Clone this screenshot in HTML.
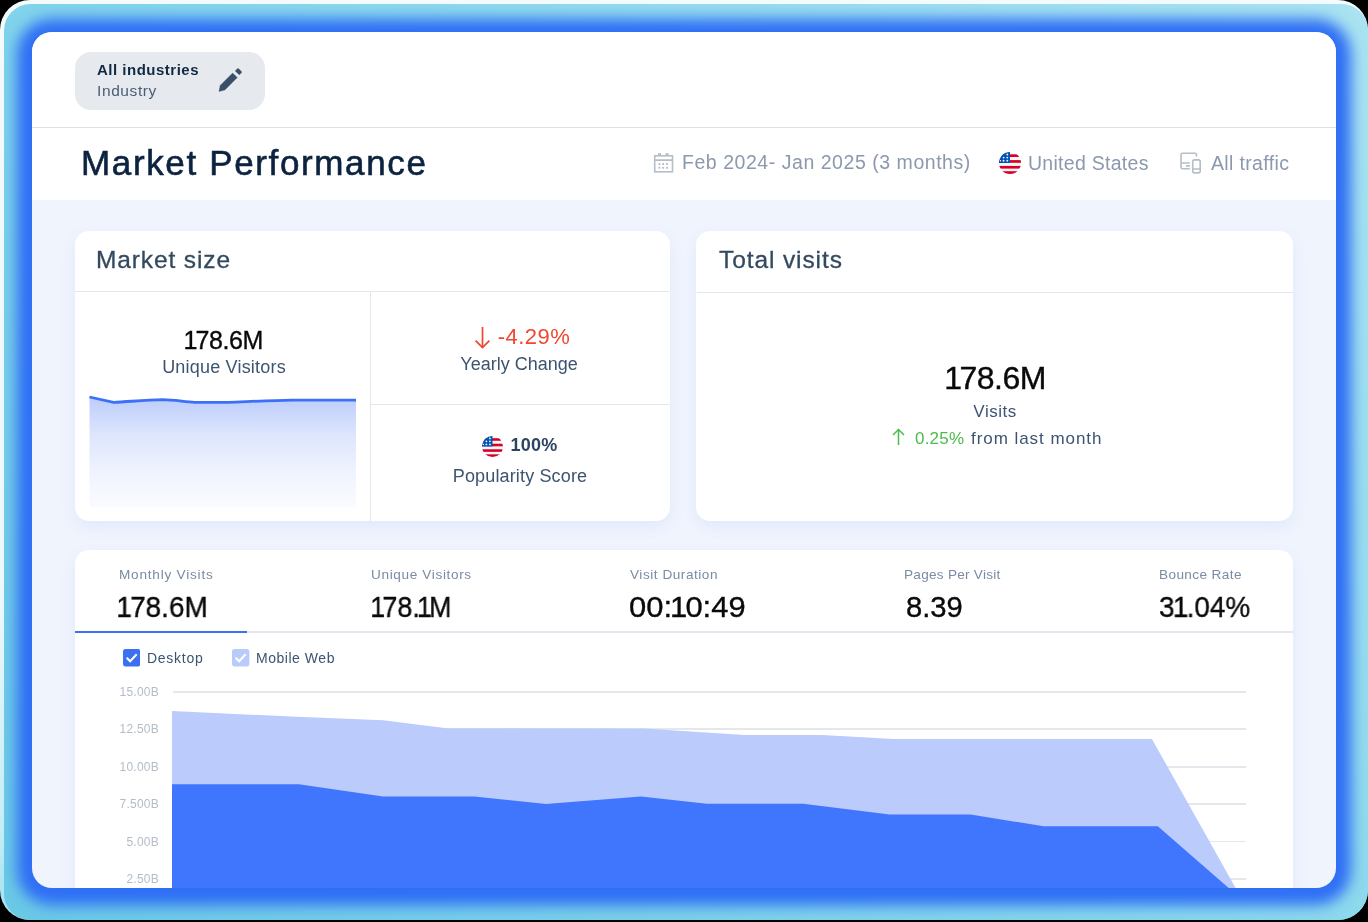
<!DOCTYPE html>
<html><head><meta charset="utf-8"><title>Market Performance</title>
<style>
*{box-sizing:border-box;margin:0;padding:0}
html,body{width:1368px;height:922px;overflow:hidden;background:#000}
body{font-family:"Liberation Sans",sans-serif;position:relative}
.frame{position:absolute;left:0;top:0;width:1368px;height:920px;border-radius:30px;overflow:hidden;
 background:linear-gradient(178deg,#f4fbfd 0%,#eef9fc 62%,#c5eef6 86%,#8ad8ec 100%)}
.frame2{position:absolute;left:3.5px;top:3.5px;width:1364.5px;height:916.5px;border-radius:26.5px;
 background:linear-gradient(45deg,#6ac8e6 0%,#86d6ec 50%,#aae3f1 100%)}
.main{position:absolute;left:32px;top:32px;width:1304px;height:856px;border-radius:20px;background:#f0f4fd;
 box-shadow:0 2px 14px 15px #2f6ff5;overflow:hidden}
.a{position:absolute}
.t{position:absolute;white-space:nowrap;line-height:1;will-change:transform}
.card{position:absolute;background:#fff;border-radius:14px;box-shadow:0 6px 16px rgba(60,100,230,.08)}
.hl{position:absolute;height:1px;background:#e3e7ed}
.vl{position:absolute;width:1px;background:#e3e7ed}
</style></head><body>
<div class="frame"><div class="frame2"></div></div>
<div class="main"></div>
<div class="a" style="left:32px;top:32px;width:1304px;height:856px;border-radius:20px;overflow:hidden">
<div class="a" style="left:-32px;top:-32px;width:1368px;height:922px">
<div class="a" style="left:32px;top:32px;width:1304px;height:168px;background:#fff"></div>
<div class="hl" style="left:32px;top:127px;width:1304px;background:#dde2e9"></div>
<div class="a" style="left:75px;top:52px;width:190px;height:58px;border-radius:16px;background:#e6e9ed"></div>
<div class="t" style="left:96.8px;top:61.90px;font-size:15px;color:#102a43;font-weight:700;letter-spacing:0.5px;">All industries</div>
<div class="t" style="left:97.4px;top:83.48px;font-size:15.5px;color:#4a5e75;font-weight:400;letter-spacing:0.6px;">Industry</div>
<svg class="a" style="left:214px;top:64px" width="32" height="32" viewBox="214 64 32 32">
<path d="M219 91.6 L220.1 85.5 L232.6 73 L237.3 77.6 L224.9 90 Z" fill="#3a5069" stroke="#3a5069" stroke-width="0.3" stroke-linejoin="round"/>
<path d="M235 70.9 L237.4 68.5 Q238 67.9 238.6 68.5 L241.6 71.5 Q242.2 72.1 241.6 72.7 L239.3 75.1 Z" fill="#3a5069"/></svg>
<div class="t" style="left:81.0px;top:145.37px;font-size:35px;color:#0c2340;font-weight:400;letter-spacing:1.64px;-webkit-text-stroke:0.6px #0c2340;">Market Performance</div>
<svg class="a" style="left:653px;top:152px" width="21" height="21" viewBox="0 0 21 21" fill="none" stroke="#b4bdc8" stroke-width="1.6">
<rect x="1.7" y="3.8" width="17.8" height="16"/><line x1="1.7" y1="8.1" x2="19.5" y2="8.1"/>
<g fill="#b4bdc8" stroke="none"><rect x="5" y="1.2" width="3" height="2.6"/><rect x="12.5" y="1.2" width="3" height="2.6"/>
<rect x="5.5" y="11.1" width="1.9" height="1.9"/><rect x="9.2" y="11.1" width="1.9" height="1.9"/><rect x="13.1" y="11.1" width="1.9" height="1.9"/>
<rect x="5.5" y="14.8" width="1.9" height="1.9"/><rect x="9.2" y="14.8" width="1.9" height="1.9"/><rect x="13.1" y="14.8" width="1.9" height="1.9"/></g></svg>
<div class="t" style="left:682.2px;top:153.49px;font-size:19.5px;color:#8a99ad;font-weight:400;letter-spacing:0.54px;">Feb 2024- Jan 2025 (3 months)</div>
<svg class="a" style="left:999px;top:152px" width="22" height="22" viewBox="0 0 22 22">
<defs><clipPath id="fc999"><circle cx="11" cy="11" r="11"/></clipPath></defs>
<g clip-path="url(#fc999)">
<rect width="22" height="22" fill="#f4f7f9"/>
<rect y="2.3" width="22" height="2.7" fill="#d80027"/>
<rect y="8.1" width="22" height="2.7" fill="#d80027"/>
<rect y="13.9" width="22" height="2.7" fill="#d80027"/>
<rect y="19.2" width="22" height="2.8" fill="#d80027"/>
<rect width="11" height="11" fill="#0052b4"/>
<g fill="#f4f7f9"><circle cx="8.3" cy="2.5" r=".95"/><circle cx="4.6" cy="5.6" r=".95"/><circle cx="8.3" cy="5.6" r=".95"/><circle cx="4.6" cy="8.8" r=".95"/><circle cx="8.3" cy="8.8" r=".95"/><circle cx="1.4" cy="8.8" r=".8"/></g>
</g></svg>
<div class="t" style="left:1028.2px;top:153.59px;font-size:19.5px;color:#8a99ad;font-weight:400;letter-spacing:0.28px;">United States</div>
<svg class="a" style="left:1178px;top:151px" width="26" height="24" viewBox="0 0 26 24" fill="none" stroke="#b4bdc8" stroke-width="1.6">
<path d="M18.5 5.6 V3.8 Q18.5 2.3 17 2.3 H4.6 Q3 2.3 3 3.9 V16.2 Q3 17.8 4.6 17.8 H11.8"/>
<line x1="3" y1="12" x2="11.8" y2="12"/><line x1="8" y1="14.9" x2="11.8" y2="14.9"/>
<rect x="14.7" y="8.9" width="7.5" height="13" rx="1.8"/><line x1="14.7" y1="18" x2="22.2" y2="18"/></svg>
<div class="t" style="left:1211.4px;top:153.69px;font-size:19.5px;color:#8a99ad;font-weight:400;letter-spacing:0.35px;">All traffic</div>
<div class="card" style="left:75px;top:231px;width:595px;height:290px"></div>
<div class="hl" style="left:75px;top:291px;width:594px"></div>
<div class="vl" style="left:370px;top:292px;height:229px"></div>
<div class="hl" style="left:371px;top:404px;width:299px"></div>
<div class="t" style="left:96.0px;top:248.46px;font-size:24.5px;color:#33495f;font-weight:400;letter-spacing:0.88px;-webkit-text-stroke:0.3px #33495f;">Market size</div>
<div class="t" style="left:224.3px;top:328.24px;font-size:25px;color:#0a0a0a;font-weight:400;letter-spacing:-0.42px;transform:translateX(-50%);-webkit-text-stroke:0.35px #0a0a0a;"><span style="margin:0 -1.5px">1</span>78.6M</div>
<div class="t" style="left:224.0px;top:358.16px;font-size:18px;color:#3d5470;font-weight:400;letter-spacing:0.2px;transform:translateX(-50%);">Unique Visitors</div>
<svg class="a" style="left:88px;top:390px" width="270" height="120" viewBox="88 390 270 120">
<defs><linearGradient id="sg" x1="0" y1="0" x2="0" y2="1"><stop offset="0" stop-color="#bccdfb"/><stop offset="0.35" stop-color="#bccdfb" stop-opacity="0.5"/><stop offset="0.7" stop-color="#bccdfb" stop-opacity="0.22"/><stop offset="1" stop-color="#bccdfb" stop-opacity="0.08"/></linearGradient></defs>
<path d="M89.5 397 L113.5 402.3 C130 401.5 145 400.2 162.7 399.7 C175 399.8 185 402 194.5 402.3 L228.4 402.3 C250 401.5 270 400.5 292 400.1 L356 400.1 L356 507 L89.5 507 Z" fill="url(#sg)"/>
<path d="M89.5 397 L113.5 402.3 C130 401.5 145 400.2 162.7 399.7 C175 399.8 185 402 194.5 402.3 L228.4 402.3 C250 401.5 270 400.5 292 400.1 L356 400.1" fill="none" stroke="#3b70f7" stroke-width="2.8"/>
</svg>
<svg class="a" style="left:474px;top:326px" width="17" height="24" viewBox="0 0 17 24" fill="none" stroke="#ef4731" stroke-width="1.7">
<line x1="8.5" y1="1" x2="8.5" y2="21.5"/><polyline points="1.6,14.6 8.5,21.5 15.4,14.6"/></svg>
<div class="t" style="left:533.6px;top:325.98px;font-size:22px;color:#ef4731;font-weight:400;letter-spacing:0.5px;transform:translateX(-50%);">-4.29%</div>
<div class="t" style="left:519.0px;top:355.06px;font-size:18px;color:#3d5470;font-weight:400;letter-spacing:0px;transform:translateX(-50%);">Yearly Change</div>
<svg class="a" style="left:482px;top:436px" width="21" height="21" viewBox="0 0 22 22">
<defs><clipPath id="fc482"><circle cx="11" cy="11" r="11"/></clipPath></defs>
<g clip-path="url(#fc482)">
<rect width="22" height="22" fill="#f4f7f9"/>
<rect y="2.3" width="22" height="2.7" fill="#d80027"/>
<rect y="8.1" width="22" height="2.7" fill="#d80027"/>
<rect y="13.9" width="22" height="2.7" fill="#d80027"/>
<rect y="19.2" width="22" height="2.8" fill="#d80027"/>
<rect width="11" height="11" fill="#0052b4"/>
<g fill="#f4f7f9"><circle cx="8.3" cy="2.5" r=".95"/><circle cx="4.6" cy="5.6" r=".95"/><circle cx="8.3" cy="5.6" r=".95"/><circle cx="4.6" cy="8.8" r=".95"/><circle cx="8.3" cy="8.8" r=".95"/><circle cx="1.4" cy="8.8" r=".8"/></g>
</g></svg>
<div class="t" style="left:534.0px;top:435.76px;font-size:18px;color:#2d4560;font-weight:700;letter-spacing:0.2px;transform:translateX(-50%);">100%</div>
<div class="t" style="left:520.3px;top:467.06px;font-size:18px;color:#3d5470;font-weight:400;letter-spacing:0.15px;transform:translateX(-50%);">Popularity Score</div>
<div class="card" style="left:696px;top:230.5px;width:597px;height:290.5px"></div>
<div class="hl" style="left:696.5px;top:292px;width:596.5px"></div>
<div class="t" style="left:719.2px;top:248.46px;font-size:24.5px;color:#33495f;font-weight:400;letter-spacing:0.9px;-webkit-text-stroke:0.3px #33495f;">Total visits</div>
<div class="t" style="left:995.8px;top:362.41px;font-size:32px;color:#0a0a0a;font-weight:400;letter-spacing:-0.5px;transform:translateX(-50%);-webkit-text-stroke:0.4px #0a0a0a;"><span style="margin:0 -2px">1</span>78.6M</div>
<div class="t" style="left:995.4px;top:402.51px;font-size:17px;color:#3d5470;font-weight:400;letter-spacing:0.5px;transform:translateX(-50%);">Visits</div>
<svg class="a" style="left:891px;top:428px" width="15" height="19" viewBox="0 0 15 19" fill="none" stroke="#4cbb4a" stroke-width="1.5">
<line x1="7.5" y1="17" x2="7.5" y2="1.5"/><polyline points="2,7 7.5,1.5 13,7"/></svg>
<div class="t" style="left:914.5px;top:429.71px;font-size:17px;color:#4cbb4a;font-weight:400;letter-spacing:0.2px;">0.25%</div>
<div class="t" style="left:970.8px;top:429.71px;font-size:17px;color:#3d5470;font-weight:400;letter-spacing:0.95px;">from last month</div>
<div class="card" style="left:75px;top:550px;width:1218px;height:400px"></div>
<div class="hl" style="left:75px;top:631px;width:1218px;height:1.5px"></div>
<div class="a" style="left:75px;top:630.5px;width:172px;height:2.5px;background:#3d6ff2"></div>
<div class="t" style="left:119.3px;top:568.29px;font-size:13.6px;color:#7a8ca3;font-weight:400;letter-spacing:0.78px;">Monthly Visits</div>
<div class="t" style="left:118.3px;top:592.58px;font-size:29.2px;color:#0a0a0a;font-weight:400;letter-spacing:0px;transform: scaleX(0.957);transform-origin:0 0;-webkit-text-stroke:0.35px #0a0a0a;"><span style="margin:0 -1.8px">1</span>78.6M</div>
<div class="t" style="left:371.4px;top:568.29px;font-size:13.6px;color:#7a8ca3;font-weight:400;letter-spacing:0.64px;">Unique Visitors</div>
<div class="t" style="left:373.0px;top:592.58px;font-size:29.2px;color:#0a0a0a;font-weight:400;letter-spacing:0px;transform: scaleX(0.92);transform-origin:0 0;-webkit-text-stroke:0.35px #0a0a0a;"><span style="margin:0 -3px">1</span>78.<span style="margin:0 -3px">1</span>M</div>
<div class="t" style="left:630.1px;top:568.29px;font-size:13.6px;color:#7a8ca3;font-weight:400;letter-spacing:0.53px;">Visit Duration</div>
<div class="t" style="left:628.6px;top:592.58px;font-size:29.2px;color:#0a0a0a;font-weight:400;letter-spacing:0px;transform: scaleX(1.06);transform-origin:0 0;-webkit-text-stroke:0.35px #0a0a0a;">00:<span style="margin:0 -1.8px">1</span>0:49</div>
<div class="t" style="left:904.3px;top:568.29px;font-size:13.6px;color:#7a8ca3;font-weight:400;letter-spacing:0.26px;">Pages Per Visit</div>
<div class="t" style="left:905.5px;top:592.58px;font-size:29.2px;color:#0a0a0a;font-weight:400;letter-spacing:0px;transform: scaleX(1.0);transform-origin:0 0;-webkit-text-stroke:0.35px #0a0a0a;">8.39</div>
<div class="t" style="left:1159.4px;top:568.29px;font-size:13.6px;color:#7a8ca3;font-weight:400;letter-spacing:0.39px;">Bounce Rate</div>
<div class="t" style="left:1158.6px;top:592.58px;font-size:29.2px;color:#0a0a0a;font-weight:400;letter-spacing:0px;transform: scaleX(0.955);transform-origin:0 0;-webkit-text-stroke:0.35px #0a0a0a;">3<span style="margin:0 -1.8px">1</span>.04%</div>
<svg class="a" style="left:122.5px;top:649.3px" width="17.4" height="17.4" viewBox="0 0 17 17">
<rect width="17" height="17" rx="2.5" fill="#3d6ff2"/><polyline points="3.6,8.6 7,12 13.4,5.2" fill="none" stroke="#fff" stroke-width="2"/></svg>
<svg class="a" style="left:232.3px;top:649.3px" width="17.4" height="17.4" viewBox="0 0 17 17">
<rect width="17" height="17" rx="2.5" fill="#b9cbfb"/><polyline points="3.6,8.6 7,12 13.4,5.2" fill="none" stroke="#fff" stroke-width="2"/></svg>
<div class="t" style="left:146.6px;top:650.75px;font-size:14px;color:#3d5470;font-weight:400;letter-spacing:0.72px;">Desktop</div>
<div class="t" style="left:256.4px;top:650.75px;font-size:14px;color:#3d5470;font-weight:400;letter-spacing:0.53px;">Mobile Web</div>
<div class="a" style="left:172.5px;top:691.05px;width:1073px;height:1.5px;background:#e4e8ed"></div>
<div class="t" style="left:158.7px;top:685.94px;font-size:12px;color:#b3bcc8;font-weight:400;letter-spacing:0.25px;transform:translateX(-100%);">15.00B</div>
<div class="a" style="left:172.5px;top:728.45px;width:1073px;height:1.5px;background:#e4e8ed"></div>
<div class="t" style="left:158.7px;top:723.34px;font-size:12px;color:#b3bcc8;font-weight:400;letter-spacing:0.25px;transform:translateX(-100%);">12.50B</div>
<div class="a" style="left:172.5px;top:766.05px;width:1073px;height:1.5px;background:#e4e8ed"></div>
<div class="t" style="left:158.7px;top:760.94px;font-size:12px;color:#b3bcc8;font-weight:400;letter-spacing:0.25px;transform:translateX(-100%);">10.00B</div>
<div class="a" style="left:172.5px;top:803.45px;width:1073px;height:1.5px;background:#e4e8ed"></div>
<div class="t" style="left:158.7px;top:798.34px;font-size:12px;color:#b3bcc8;font-weight:400;letter-spacing:0.25px;transform:translateX(-100%);">7.500B</div>
<div class="a" style="left:172.5px;top:840.85px;width:1073px;height:1.5px;background:#e4e8ed"></div>
<div class="t" style="left:158.7px;top:835.74px;font-size:12px;color:#b3bcc8;font-weight:400;letter-spacing:0.25px;transform:translateX(-100%);">5.00B</div>
<div class="a" style="left:172.5px;top:878.45px;width:1073px;height:1.5px;background:#e4e8ed"></div>
<div class="t" style="left:158.7px;top:873.34px;font-size:12px;color:#b3bcc8;font-weight:400;letter-spacing:0.25px;transform:translateX(-100%);">2.50B</div>
<svg class="a" style="left:0;top:0" width="1368" height="922">
<polygon points="172,711 297,716.8 383,720.3 446.5,728.2 643.8,728.4 744.7,735.1 822.2,735.1 893.8,738.9 1151.9,738.9 1262,935 1262,940 172,940" fill="#bacbfc"/>
<polygon points="172,784.2 298.8,784.2 383,796.6 474.2,796.6 546,804 641,796.5 706.7,803.8 803.2,803.8 889.6,814.6 970.6,814.6 1043.7,826.3 1157.8,826.3 1262,917 1262,940 172,940" fill="#4075fe"/>
</svg>
</div></div>
</body></html>
